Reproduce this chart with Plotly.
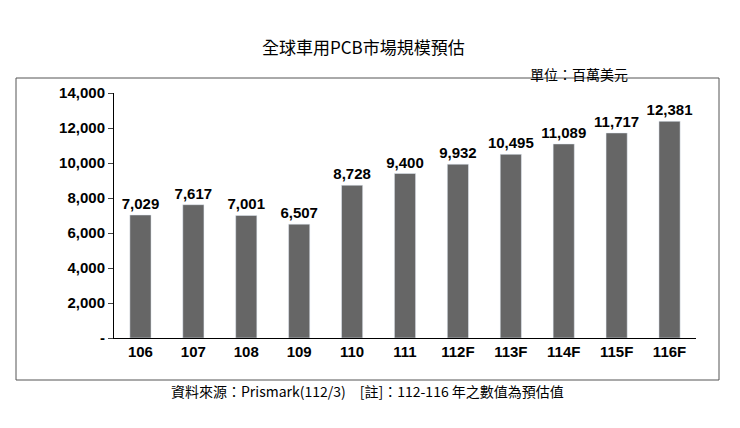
import plotly.graph_objects as go

years = ["106","107","108","109","110","111","112F","113F","114F","115F","116F"]
values = [7029,7617,7001,6507,8728,9400,9932,10495,11089,11717,12381]
tick_vals = [0,2000,4000,6000,8000,10000,12000,14000]
tick_text = ["-","2,000","4,000","6,000","8,000","10,000","12,000","14,000"]

W, H = 740, 428
dx, dy = 7, 8  # page body offset compensation
l, r, t, b = 113 - dx, 45 + dx, 93 - dy, 90 + dy
pw, ph = W - l - r, H - t - b
Y0 = 338 - dy  # pixel of y=0 (paper y=0)
def px(x): return (x - dx - l) / pw
def py(y): return (Y0 - (y - dy) - 0) / ph if False else ((t + ph) - (y - dy)) / ph

fig = go.Figure(go.Bar(
    x=years, y=values, marker_color="#666666",
    text=[f"{v:,}" for v in values], textposition="outside",
    textangle=0, constraintext="none",
    textfont=dict(family="Liberation Sans", size=15, color="#000", weight="bold"),
    cliponaxis=False,
))
fig.update_layout(
    width=W, height=H, margin=dict(l=l, r=r, t=t, b=b),
    plot_bgcolor="white", paper_bgcolor="white", bargap=0.6, showlegend=False,
    font=dict(family="Liberation Sans", color="#000"),
    uniformtext=dict(minsize=15, mode="show"),
    xaxis=dict(showline=True, linecolor="#000", linewidth=1, ticks="",
               tickfont=dict(size=15, family="Liberation Sans", weight="bold")),
    yaxis=dict(range=[0,14000], tickvals=tick_vals, ticktext=tick_text,
               showgrid=False, showline=True, linecolor="#000", ticks="outside",
               ticklen=5, tickfont=dict(size=15, family="Liberation Sans", weight="bold")),
    shapes=[dict(type="rect", xref="paper", yref="paper",
                 x0=px(15), x1=px(718), y0=py(380), y1=py(78),
                 line=dict(color="#555", width=1))],
    annotations=[
        dict(text="全球車用PCB市場規模預估", xref="paper", yref="paper", xanchor="center",
             x=px(362), y=py(32), showarrow=False,
             font=dict(family="Noto Sans CJK TC", size=17)),
        dict(text="單位：百萬美元", xref="paper", yref="paper", xanchor="center",
             x=px(578), y=py(62), showarrow=False,
             font=dict(family="Noto Sans CJK TC", size=14)),
        dict(text="資料來源：Prismark(112/3)　[註]：112-116 年之數值為預估值", xref="paper", yref="paper",
             xanchor="center", x=px(366), y=py(403), showarrow=False,
             font=dict(family="Noto Sans CJK TC", size=14)),
    ],
)
fig.write_html("out.html")
